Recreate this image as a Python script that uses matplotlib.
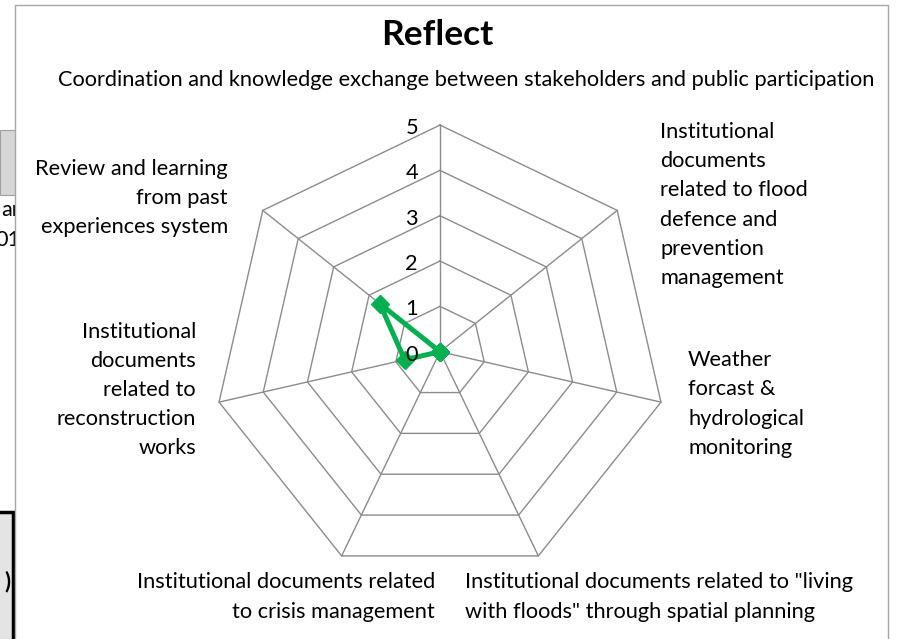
import numpy as np
import matplotlib
matplotlib.use("Agg")
import matplotlib.pyplot as plt
from matplotlib.patches import Rectangle

# ---- data ----
title = "Reflect"
categories = [
    "Coordination and knowledge exchange between stakeholders and public participation",
    "Institutional\ndocuments\nrelated to flood\ndefence and\nprevention\nmanagement",
    "Weather\nforcast &\nhydrological\nmonitoring",
    'Institutional documents related to "living\nwith floods" through spatial planning',
    "Institutional documents related\nto crisis management",
    "Institutional\ndocuments\nrelated to\nreconstruction\nworks",
    "Review and learning\nfrom past\nexperiences system",
]
values = [0, 0, 0, 0, 0, 0.8, 1.7]
ticks = [0, 1, 2, 3, 4, 5]

# ---- figure ----
W, H = 906, 639
fig = plt.figure(figsize=(W / 100, H / 100), dpi=100)
fig.patch.set_facecolor("white")
FONT = "Lato"
FS = 15.7
TXT = "#000000"

def fx(x):
    return x / W

def fy(y):
    return 1 - y / H

# left-edge fragments of a neighbouring chart
fig.patches.append(Rectangle((fx(0), fy(195)), fx(16), fy(130) - fy(195),
                             transform=fig.transFigure, facecolor="#d6d6d6",
                             edgecolor="#a0a0a0", lw=0.8, zorder=0))
fig.text(fx(20), fy(210), "ar", ha="right", va="center", fontsize=FS,
         family=FONT, color=TXT, zorder=0)
fig.text(fx(20), fy(240), "01", ha="right", va="center", fontsize=FS,
         family=FONT, color=TXT, zorder=0)
fig.patches.append(Rectangle((fx(-5), fy(660)), fx(18), fy(512) - fy(660),
                             transform=fig.transFigure, facecolor="#e4e4e4",
                             edgecolor="black", lw=2.5, zorder=0))
fig.text(fx(10), fy(582), ")", ha="right", va="center", fontsize=FS,
         family=FONT, weight="bold", color=TXT, zorder=0)

# chart area
fig.patches.append(Rectangle((fx(15), fy(650)), fx(888 - 15), fy(5) - fy(650),
                             transform=fig.transFigure, facecolor="white",
                             edgecolor="#a6a6a6", lw=1.0, zorder=1))

cx, cy, s = 440, 351.7, 45.33
ax = fig.add_axes([0, 0, 1, 1], zorder=2)
ax.patch.set_alpha(0)
ax.set_xlim(-cx / s, (W - cx) / s)
ax.set_ylim(-(H - cy) / s, cy / s)
ax.axis("off")

n = len(categories)
theta = 2 * np.pi * np.arange(n) / n
th_c = np.append(theta, theta[0])
grid_col = "#8c8c8c"

for t in ticks[1:]:
    ax.plot(t * np.sin(th_c), t * np.cos(th_c), color=grid_col, lw=1.0, zorder=1)
rmax = max(ticks)
for th in theta:
    ax.plot([0, rmax * np.sin(th)], [0, rmax * np.cos(th)], color=grid_col,
            lw=1.0, zorder=1)

v = np.append(values, values[0])
ax.plot(v * np.sin(th_c), v * np.cos(th_c), color="#00b050", lw=3.6,
        marker="D", markersize=9, zorder=4)

for t in ticks:
    ax.text(-22 / s, t - 3 / s, str(t), ha="right", va="center", fontsize=FS,
            family=FONT, color=TXT, zorder=6)

# title and category labels
fig.text(fx(437), fy(35), title, ha="center", va="center", fontsize=25.5,
         family=FONT, weight="bold", color=TXT, zorder=3)

LS = 1.57
label_pos = [
    (466, 80, "center", "center", "center"),
    (660, 205, "left", "center", "left"),
    (688, 404, "left", "center", "left"),
    (465, 597, "left", "center", "left"),
    (435, 597, "right", "center", "right"),
    (196, 390, "right", "center", "right"),
    (228, 198, "right", "center", "right"),
]
for lab, (x, y, ha, va, ma) in zip(categories, label_pos):
    fig.text(fx(x), fy(y), lab, ha=ha, va=va, multialignment=ma, fontsize=FS,
             family=FONT, color=TXT, linespacing=LS, zorder=3)

fig.savefig("out.png", dpi=100)
